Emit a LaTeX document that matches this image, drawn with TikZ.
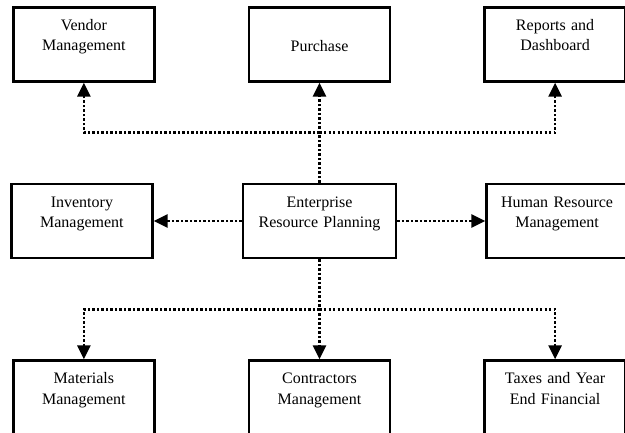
\documentclass[tikz,border=0pt]{standalone}
\usepackage{fontspec}
\setmainfont{Liberation Serif}
\usepackage{tikz}
\usetikzlibrary{positioning}
\usetikzlibrary{calc,arrows.meta}
\tikzset{
  modbox/.style = {rectangle, draw=black, line width=2.6pt, inner sep=0pt,
    align=center, text width=141pt, text height=23pt, text depth=51pt,
    font=\fontsize{16}{20.5}\selectfont},% boite de module
  erpbox/.style = {modbox, text width=153pt},% boite centrale
  link/.style = {line width=2.6pt, dash pattern=on 2.4pt off 2.1pt}% lien pointille
}

\begin{document}
\begin{tikzpicture}[->,>={Triangle[length=14pt,width=13pt]},
  node distance=100pt and 88pt]
\useasboundingbox (0,0) rectangle (625pt,-432pt);
\node [erpbox] (erp) at (319.5pt,-221pt) {Enterprise\\Resource Planning};
\node [modbox, left=of erp] (inventory) {Inventory\\Management};
\node [modbox, right=of erp] (hr) {Human Resource\\Management};
\node [modbox, above=of erp, text height=44pt, text depth=30pt] (purchase) {Purchase};
\node [modbox, left=92pt of purchase] (vendor) {Vendor\\Management};
\node [modbox, right=92pt of purchase] (reports) {Reports and\\Dashboard};
\node [modbox, below=of erp] (contractors) {Contractors\\Management};
\node [modbox, left=92pt of contractors] (materials) {Materials\\Management\hspace*{26pt}};
\node [modbox, right=92pt of contractors] (taxes) {Taxes and Year\\End Financial};
% embranchements
\coordinate (upj) at ($(erp.north)!.5!(purchase.south)$);
\coordinate (downj) at ($(erp.south)!.5!(contractors.north)$);
\draw [link] (erp.north) -- (purchase.south);
\draw [link] (upj) -| (vendor.south);
\draw [link] (upj) -| (reports.south);
\draw [link] (erp.west) -- (inventory.east);
\draw [link] (erp.east) -- (hr.west);
\draw [link] (erp.south) -- (contractors.north);
\draw [link] (downj) -| (materials.north);
\draw [link] (downj) -| (taxes.north);
\end{tikzpicture}
\end{document}
